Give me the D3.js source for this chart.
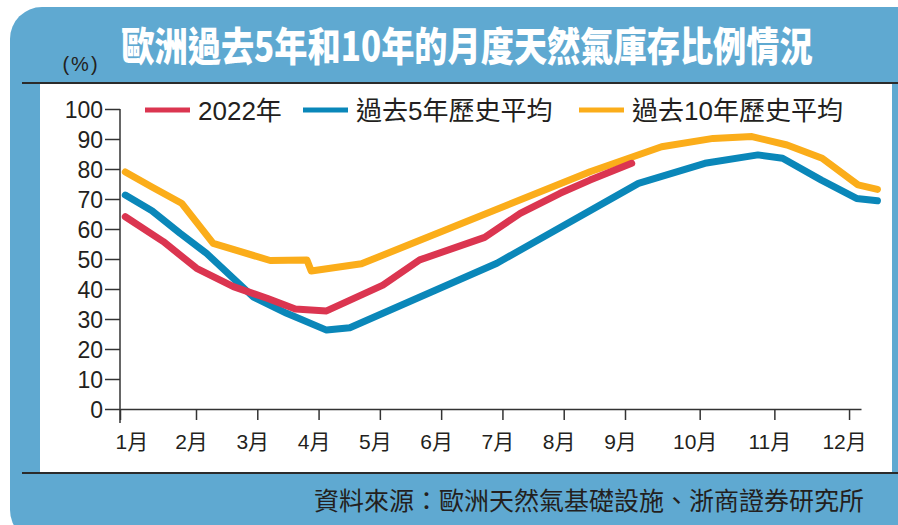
<!DOCTYPE html>
<html>
<head>
<meta charset="utf-8">
<script src="https://cdn.jsdelivr.net/npm/d3@7"></script>
<style>
  body { margin: 0; background: #fff; }
  svg { display: block; }
  text { font-family: "Liberation Sans", "Noto Sans CJK TC", sans-serif; fill: #231f20; }
</style>
</head>
<body>
<div id="chart"></div>
<script>
// data (x = position in months, y = storage %)
var monthLabels = ["1月", "2月", "3月", "4月", "5月", "6月", "7月", "8月", "9月", "10月", "11月", "12月"];
var yTicks = [0, 10, 20, 30, 40, 50, 60, 70, 80, 90, 100];

var seriesNames = ["2022年", "過去5年歷史平均", "過去10年歷史平均"];
var seriesColors = ["#db3550", "#0a87b9", "#fbad1a"];

var x2022 = [1.07, 1.57, 2.01, 2.61, 3.16, 3.62, 4.13, 5.05, 5.65, 6.71, 7.29, 7.94, 8.43, 9.09];
var y2022 = [64.1, 55.8, 46.9, 40.8, 36.9, 33.3, 32.7, 41.3, 49.7, 57.2, 65.2, 71.9, 76.3, 81.9];

var xAvg5 = [1.07, 1.42, 1.79, 2.17, 2.93, 3.48, 4.13, 4.51, 6.91, 9.18, 10.07, 10.78, 11.11, 11.63, 12.10, 12.38];
var yAvg5 = [71.3, 66.1, 58.6, 51.9, 37.4, 31.9, 26.3, 27.1, 48.6, 75.2, 81.9, 84.7, 83.6, 76.3, 70.2, 69.4];

var xAvg10 = [1.07, 1.42, 1.81, 2.28, 3.21, 3.81, 3.88, 4.70, 8.43, 9.49, 10.18, 10.70, 11.17, 11.64, 12.12, 12.38];
var yAvg10 = [79.0, 74.0, 68.6, 55.2, 49.5, 49.7, 46.0, 48.4, 79.1, 87.4, 90.2, 90.8, 88.0, 83.6, 74.7, 73.2];

var svgWidth = 898;
var svgHeight = 525;
var blue = "#5fa9d1";

var svg = d3.select("#chart")
  .append("svg")
  .attr("width", svgWidth)
  .attr("height", svgHeight);

// frame
svg.append("rect")
  .attr("x", 10).attr("y", 7)
  .attr("width", 930).attr("height", 535)
  .attr("rx", 32)
  .attr("fill", blue);

svg.append("rect")
  .attr("x", 40).attr("y", 83)
  .attr("width", 852).attr("height", 390)
  .attr("fill", "#fff");

[83, 473].forEach(function(yy) {
  svg.append("line")
    .attr("x1", 22).attr("x2", 898)
    .attr("y1", yy).attr("y2", yy)
    .attr("stroke", "#2b2b2b")
    .attr("stroke-width", 2.2);
});

// title (condensed bold)
svg.append("text")
  .attr("transform", "translate(467,61) scale(0.83,1)")
  .attr("text-anchor", "middle")
  .style("font-family", "'Noto Sans CJK TC', sans-serif")
  .style("font-weight", 900)
  .style("font-size", "40px")
  .style("fill", "#fff")
  .text("歐洲過去5年和10年的月度天然氣庫存比例情況");

svg.append("text")
  .attr("x", 81).attr("y", 71)
  .attr("text-anchor", "middle")
  .style("font-size", "20px")
  .style("letter-spacing", "2px")
  .text("(%)");

// scales
var xScale = d3.scaleLinear()
  .domain([1, 2, 9, 12.16])
  .range([120, 196, 625, 861]);

var yScale = d3.scaleLinear()
  .domain([0, 100])
  .range([409, 109]);

// axes
var leftAxis = d3.axisLeft(yScale)
  .tickValues(yTicks)
  .tickSize(15)
  .tickSizeOuter(0)
  .tickPadding(2);

var bottomAxis = d3.axisBottom(xScale)
  .tickValues(d3.range(1, 13))
  .tickSize(11)
  .tickSizeOuter(0)
  .tickFormat(function(d) { return monthLabels[d - 1]; });

var yAxisG = svg.append("g")
  .attr("transform", "translate(120,0)")
  .call(leftAxis);
yAxisG.select(".domain").remove();
yAxisG.selectAll("line").attr("stroke", "#333").attr("stroke-width", 1.5);
yAxisG.selectAll("text")
  .style("font-size", "23px")
  .style("font-family", "'Liberation Sans', sans-serif")
  .attr("dy", "0.36em")
  .attr("fill", "#231f20");

var xAxisG = svg.append("g")
  .attr("transform", "translate(0,409)")
  .call(bottomAxis);
xAxisG.select(".domain").attr("stroke", "#333").attr("stroke-width", 1.5);
xAxisG.selectAll("line").attr("stroke", "#333").attr("stroke-width", 1.5);
xAxisG.selectAll("text")
  .style("font-size", "21px")
  .attr("fill", "#231f20")
  .attr("y", 40)
  .attr("dy", 0)
  .attr("dx", -5);
xAxisG.selectAll(".tick").filter(function(d) { return d === 1; })
  .select("text")
  .attr("text-anchor", "start")
  .attr("dx", -5);

// y axis line, running a bit below zero
svg.append("line")
  .attr("x1", 120).attr("x2", 120)
  .attr("y1", yScale(100)).attr("y2", yScale(0) + 14)
  .attr("stroke", "#333")
  .attr("stroke-width", 1.5);

// lines
var series = [
  { name: seriesNames[0], color: seriesColors[0], xs: x2022, ys: y2022 },
  { name: seriesNames[1], color: seriesColors[1], xs: xAvg5, ys: yAvg5 },
  { name: seriesNames[2], color: seriesColors[2], xs: xAvg10, ys: yAvg10 }
];

var line = d3.line()
  .x(function(d) { return xScale(d[0]); })
  .y(function(d) { return yScale(d[1]); });

// draw 10yr first, 2022 on top
[2, 1, 0].forEach(function(i) {
  var s = series[i];
  svg.append("path")
    .datum(d3.zip(s.xs, s.ys))
    .attr("d", line)
    .attr("fill", "none")
    .attr("stroke", s.color)
    .attr("stroke-width", 7)
    .attr("stroke-linejoin", "round")
    .attr("stroke-linecap", "round");
});

// legend
var legendX = [145, 303, 579];
series.forEach(function(s, i) {
  var g = svg.append("g").attr("transform", "translate(" + legendX[i] + ",110)");
  g.append("line")
    .attr("x1", 0).attr("x2", 45)
    .attr("stroke", s.color)
    .attr("stroke-width", 5);
  g.append("text")
    .attr("x", 53).attr("y", 10)
    .style("font-size", "26px")
    .text(s.name);
});

// source
svg.append("text")
  .attr("x", 864).attr("y", 510)
  .attr("text-anchor", "end")
  .style("font-family", "'Noto Sans CJK TC', sans-serif")
  .style("font-size", "25px")
  .text("資料來源：歐洲天然氣基礎設施、浙商證券研究所");
</script>
</body>
</html>
